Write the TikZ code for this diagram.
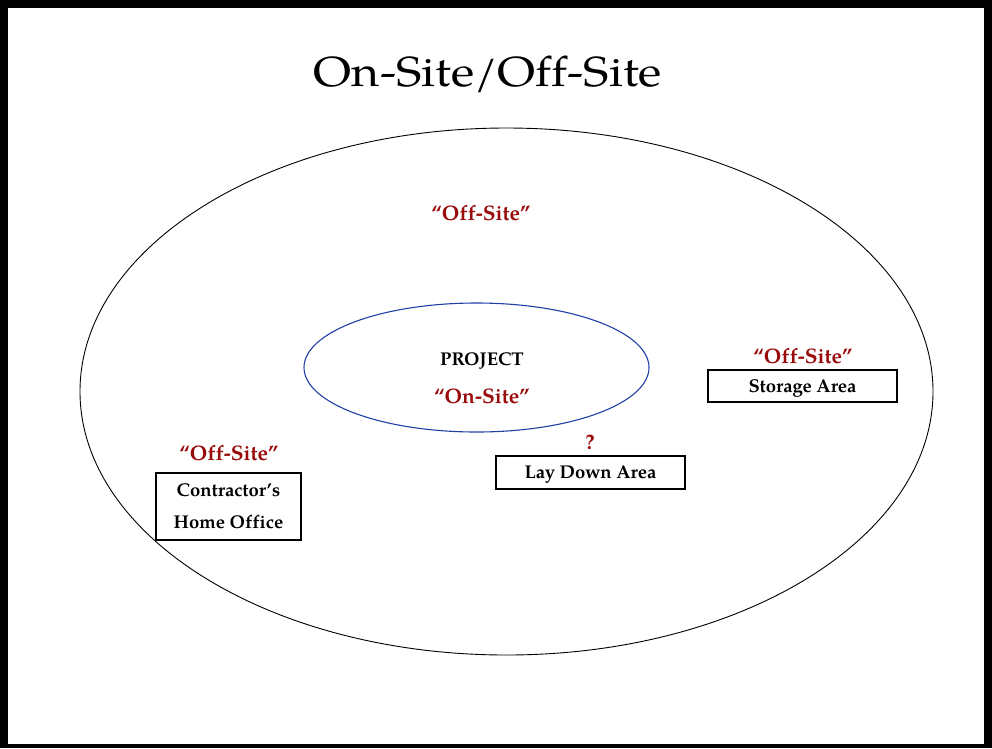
\documentclass[tikz,border=0pt]{standalone}
\usepackage{fontspec}
\setmainfont{TeX Gyre Pagella}[Ligatures={TeX,NoCommon}]
\newfontfamily\titlefont{TeX Gyre Pagella}[Ligatures={TeX,NoCommon},FakeStretch=1.15]
\definecolor{sitered}{HTML}{990A0A}
\definecolor{siteblue}{HTML}{2040A8}
\begin{document}
\begin{tikzpicture}[x=1pt,y=-1pt,
  redlabel/.style={text=sitered,font=\bfseries\fontsize{21}{24}\selectfont,inner sep=0pt},
  blacklabel/.style={font=\bfseries\fontsize{18.5}{22}\selectfont,inner sep=0pt},
  area/.style={draw=black,line width=1.1pt,font=\bfseries\fontsize{18.5}{22}\selectfont,inner sep=0pt,align=center}]
% frame
\fill[black] (0,0) rectangle (992,748);
\fill[white] (8,8) rectangle (984,744);
\useasboundingbox (0,0) rectangle (992,748);
% title
\node[font=\titlefont\fontsize{42}{48}\selectfont,inner sep=0pt] (title) at (488,74) {On-Site/Off-Site};
% ellipses
\draw[line width=0.9pt] (506.5,391.5) ellipse [x radius=426.5, y radius=263.5];
\draw[siteblue,line width=1.1pt] (476.5,367.5) ellipse [x radius=172.5, y radius=64.5];
% labels
\node[redlabel] (offtop) at (481,213) {“Off-Site”};
\node[blacklabel] (project) at (482,361) {PROJECT};
\node[redlabel] (onsite) at (482,396) {“On-Site”};
% storage area
\node[area,text depth=0pt,minimum width=189pt,minimum height=32pt] (storage) at (802.5,386) {Storage Area};
\node[redlabel] (offright) at (803,356) {“Off-Site”};
% lay down area
\node[area,text depth=0pt,minimum width=189pt,minimum height=33pt] (laydown) at (590.5,472.5) {Lay Down Area};
\node[redlabel] (query) at (590,442) {?};
% contractor's home office
\node[area,minimum width=145pt,minimum height=67pt,font=\bfseries\fontsize{18.5}{32}\selectfont] (office) at (228.5,506.5) {Contractor’s\\Home Office};
\node[redlabel] (offleft) at (229,453) {“Off-Site”};
\end{tikzpicture}
\end{document}
